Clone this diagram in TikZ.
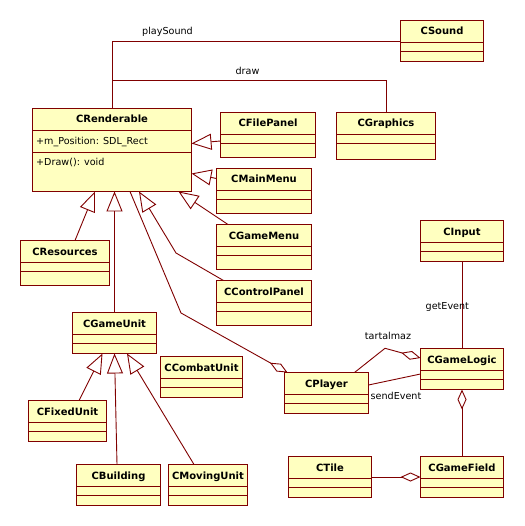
\documentclass[tikz,border=0pt]{standalone}
\usepackage{fontspec}
\setmainfont{DejaVu Sans}
\usetikzlibrary{arrows.meta,calc,fit}
\definecolor{umlred}{RGB}{128,0,0}
\definecolor{umlfill}{RGB}{255,255,192}
\tikzset{
  uml/.style={draw=umlred, line width=0.9pt},
  classbox/.style={uml, fill=umlfill, inner sep=0pt, outer sep=0pt},
  classtitle/.style={font=\fontsize{10}{11}\selectfont\bfseries, inner sep=0pt, anchor=base},
  lbl/.style={font=\fontsize{9.6}{11}\selectfont, inner sep=0pt, anchor=base},
  attr/.style={font=\fontsize{9.6}{11}\selectfont, inner sep=0pt, anchor=base west},
  gen/.style={uml, -{Triangle[open, length=20pt, width=16pt]}},
  agg/.style={uml, -{Diamond[open, length=20pt, width=9pt]}},
}
% name, x1, y1, x2, y2, sep1, sep2, title
\newcommand\umlclass[8]{%
  \node[classbox, fit={(#2,#3) (#4,#5)}] (#1) {};
  \draw[uml] (#2,#6) -- (#4,#6);
  \draw[uml] (#2,#7) -- (#4,#7);
  \node[classtitle] (#1t) at ({(#2+#4)/2},{#3+14.5}) {#8};
}
\begin{document}
\begin{tikzpicture}[x=1pt,y=-1pt]
\useasboundingbox[fill=white] (0,0) rectangle (524,526);

\umlclass{crend}{32.5}{108.5}{191.5}{191.5}{130.5}{152.5}{CRenderable}
\node[attr] (crendattr) at (36,144.5) {+m\_Position: SDL\_Rect};
\node[attr] (crendop) at (36,166) {+Draw(): void};
\umlclass{csound}{400.5}{20.5}{483.5}{61.5}{42.5}{51.5}{CSound}
\umlclass{cgraphics}{336.5}{112.5}{435.5}{159.5}{134.5}{143.5}{CGraphics}
\umlclass{cfile}{220.5}{112.5}{315.5}{157.5}{134.5}{143.5}{CFilePanel}
\umlclass{cmain}{216.5}{168.5}{311.5}{213.5}{190.5}{199.5}{CMainMenu}
\umlclass{cgamemenu}{216.5}{224.5}{311.5}{269.5}{246.5}{255.5}{CGameMenu}
\umlclass{cctrl}{216.5}{280.5}{311.5}{325.5}{302.5}{311.5}{CControlPanel}
\umlclass{cinput}{420.5}{220.5}{503.5}{261.5}{242.5}{251.5}{CInput}
\umlclass{clogic}{420.5}{348.5}{503.5}{389.5}{370.5}{379.5}{CGameLogic}
\umlclass{cplayer}{284.5}{372.5}{368.5}{413.5}{394.5}{403.5}{CPlayer}
\umlclass{ctile}{288.5}{456.5}{371.5}{497.5}{478.5}{487.5}{CTile}
\umlclass{cfield}{420.5}{456.5}{503.5}{497.5}{478.5}{487.5}{CGameField}
\umlclass{cres}{20.5}{240.5}{109.5}{285.5}{262.5}{271.5}{CResources}
\umlclass{cunit}{72.5}{312.5}{156.5}{353.5}{334.5}{343.5}{CGameUnit}
\umlclass{ccombat}{160.5}{356.5}{242.5}{397.5}{378.5}{387.5}{CCombatUnit}
\umlclass{cfixed}{28.5}{400.5}{106.5}{441.5}{422.5}{431.5}{CFixedUnit}
\umlclass{cbuild}{76.5}{464.5}{160.5}{505.5}{486.5}{495.5}{CBuilding}
\umlclass{cmoving}{168.5}{464.5}{247.5}{505.5}{486.5}{495.5}{CMovingUnit}

% associations
\draw[uml] (crend.north) |- (csound.west);
\node[lbl] (lplay) at (167.5,35) {playSound};
\draw[uml] (crend.north) -- ($(crend.north)+(0,-28)$) -| (cgraphics.north);
\node[lbl] (ldraw) at (247.5,74.5) {draw};

% generalizations to CRenderable
\draw[gen] ($(cfile.west)+(0,6)$) -- ($(crend.east)+(0,-6.5)$);
\draw[gen] ($(cmain.west)+(0,-12.5)$) -- ($(crend.east)+(0,23.5)$);
\draw[gen] ($(cgamemenu.north west)+(11.5,0)$) -- ($(crend.south west)+(146,0)$);
\coordinate (bendcp) at (176,253);
\draw[gen] ($(cctrl.north west)+(7,0)$) -- (bendcp) -- ($(crend.south west)+(106.5,0)$);
\draw[gen] ($(cres.north west)+(54.5,0)$) -- ($(crend.south west)+(62.5,0)$);
\draw[gen] (cunit.north) -- (cunit.north |- crend.south);

% CPlayer aggregates CRenderable
\coordinate (bendpl) at (181,313);
\draw[agg] ($(crend.south west)+(97.5,0)$) -- (bendpl) -- ($(cplayer.north west)+(3,0)$);

% generalizations to CGameUnit
\draw[gen] ($(cfixed.north west)+(50.5,0)$) -- ($(cunit.south west)+(30,0)$);
\draw[gen] ($(cbuild.north west)+(40.5,0)$) -- ($(cunit.south west)+(42,0)$);
\draw[gen] ($(cmoving.north west)+(25.5,0)$) -- ($(cunit.south west)+(54.5,0)$);

% game logic
\coordinate (bendtar) at (385,348.3);
\draw[agg] ($(cplayer.north west)+(70,0)$) -- (bendtar) -- ($(clogic.west)+(0,-11)$);
\node[lbl] (ltar) at (388,339) {tartalmaz};
\draw[uml] ($(cplayer.east)+(0,-8)$) -- ($(clogic.west)+(0,5)$);
\node[lbl] (lsend) at (396,399) {sendEvent};
\draw[uml] (cinput.south) -- (clogic.north);
\node[lbl] (lget) at (447.3,309.5) {getEvent};
\draw[agg] (cfield.north) -- (clogic.south);
\draw[agg] (ctile.east) -- (cfield.west);
\end{tikzpicture}
\end{document}
